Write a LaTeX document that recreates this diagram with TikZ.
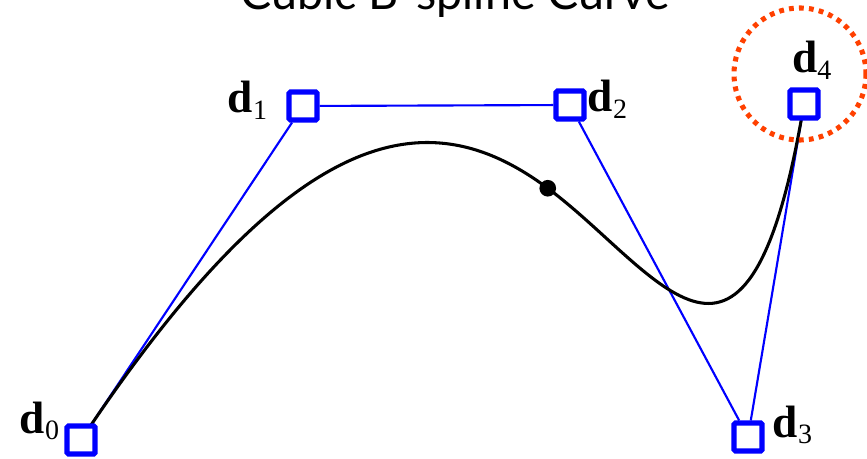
\documentclass[tikz,border=0pt]{standalone}
\usepackage{fontspec}
\setmainfont{Liberation Serif}
\newfontfamily\titlefont{Lato}
\usetikzlibrary{positioning,calc,backgrounds}

\newcommand{\dlab}[1]{\textbf{d}\raisebox{-5pt}{\fontsize{21}{21}\selectfont #1}}

\begin{document}
\begin{tikzpicture}[
  x=0.75pt,y=-0.75pt,
  ctrl/.style ={rectangle,draw=blue,fill=white,line width=3.8pt,rounded corners=1pt,
                minimum size=21pt,inner sep=0pt},
  lab/.style  ={inner sep=0pt,font=\fontsize{34}{34}\selectfont},
  poly/.style ={draw=blue,line width=1.6pt},
  spline/.style={draw=black,line width=2.3pt},
  knotdot/.style={circle,fill=black,minimum size=12.5pt,inner sep=0pt},
  hilite/.style={draw={rgb,255:red,255;green,64;blue,0},line width=3.8pt,
                 dash pattern=on 3.6pt off 3.9pt}
]
\useasboundingbox (0,0) rectangle (867,459);

\node[anchor=base,font=\titlefont\fontsize{35}{35}\selectfont] (title) at (455,9.5) {Cubic B-spline Curve};

% control points
\node[ctrl] (d0) at (81,440) {};
\node[ctrl] (d1) at (303,106) {};
\node[ctrl] (d2) at (570,105) {};
\node[ctrl] (d3) at (748,437) {};
\node[ctrl] (d4) at (804,104) {};

\node[lab,anchor=base east] (l0) at ([shift={(-5,-7)}]d0.west) {\dlab{0}};
\node[lab,anchor=base east] (l1) at ([shift={(-19,7)}]d1.west) {\dlab{1}};
\node[lab,anchor=base west] (l2) at ([shift={(1,7)}]d2.east) {\dlab{2}};
\node[lab,anchor=base west] (l3) at ([shift={(8,0)}]d3.east) {\dlab{3}};
\node[lab,anchor=base west] (l4) at ([shift={(-12,-15)}]d4.north) {\dlab{4}};

% knot (B-spline to Bezier)
\coordinate (m12) at ($(d1)!0.5!(d2)$);
\coordinate (m23) at ($(d2)!0.5!(d3)$);
\coordinate (knot) at ($(m12)!0.5!(m23)$);
\node[knotdot] (kn) at (knot) {};

\begin{scope}[on background layer]
\draw[poly] (d0)--(d1)--(d2)--(d3)--(d4);
\draw[spline] (d0.center) .. controls (d1.center) and (m12) .. (knot)
  .. controls (m23) and (d3.center) .. (d4.center);
\end{scope}

\coordinate (hl) at (800,74);
\draw[hilite] (hl) circle (66);
\end{tikzpicture}
\end{document}
